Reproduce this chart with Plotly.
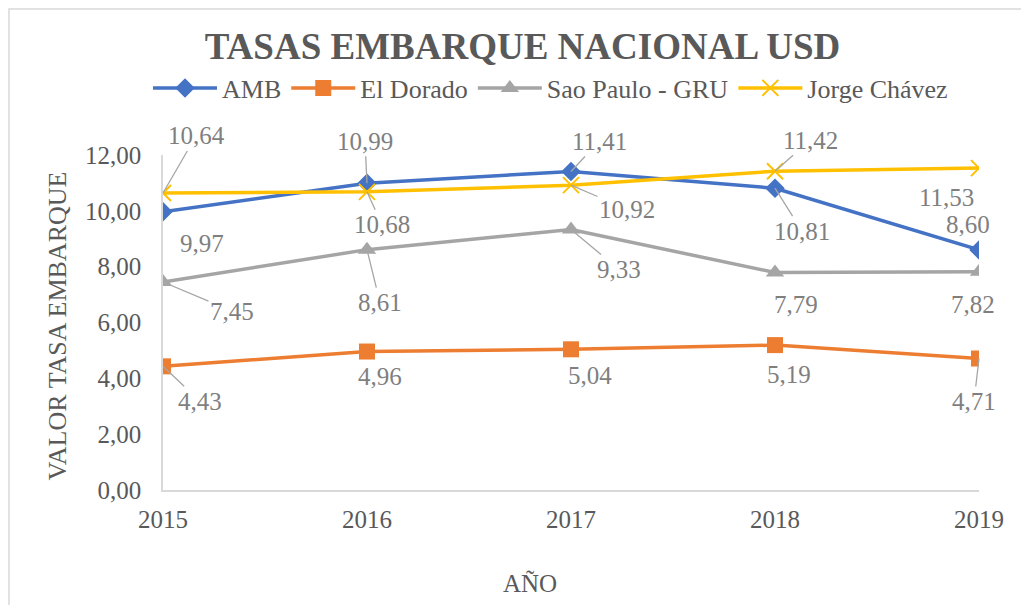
import plotly.graph_objects as go

years = ["2015", "2016", "2017", "2018", "2019"]
amb = [9.97, 10.99, 11.41, 10.81, 8.60]
el_dorado = [4.43, 4.96, 5.04, 5.19, 4.71]
sao_paulo = [7.45, 8.61, 9.33, 7.79, 7.82]
jorge_chavez = [10.64, 10.68, 10.92, 11.42, 11.53]

series_names = ["AMB", "El Dorado", "Sao Paulo - GRU", "Jorge Chávez"]
series_values = [amb, el_dorado, sao_paulo, jorge_chavez]
colors = ["#4472C4", "#ED7D31", "#A5A5A5", "#FFC000"]
symbols = ["diamond", "square", "triangle-up", "x-thin"]
msizes = [15, 16, 16, 16]

# label offsets (px) and whether a leader line is drawn
label_offsets = [
    [(39, 32, False), (-2, -42, True), (28, -30, True), (27, 43, True), (-11, -25, False)],
    [(37, 35, True), (13, 25, False), (19, 26, False), (14, 29, False), (-5, 43, True)],
    [(69, 29, True), (13, 53, True), (48, 40, True), (21, 32, False), (-6, 33, False)],
    [(33, -57, True), (15, 33, True), (56, 24, True), (35, -31, True), (-33, 29, False)],
]

FONT = "Liberation Serif"
DARK = "#595959"
fig = go.Figure()
for name, vals, c, s, ms in zip(series_names, series_values, colors, symbols, msizes):
    mk = dict(symbol=s, size=ms, color=c)
    if s == "x-thin":
        mk["line"] = dict(color=c, width=2)
    fig.add_trace(go.Scatter(x=years, y=vals, name=name, mode="lines+markers",
                             line=dict(color=c, width=3.5), marker=mk))

annotations = []
for vals, offs in zip(series_values, label_offsets):
    for i, (v, (dx, dy, line)) in enumerate(zip(vals, offs)):
        txt = f"{v:.2f}".replace(".", ",")
        a = dict(x=i, y=v, xref="x", yref="y", text=txt,
                 font=dict(family=FONT, size=25, color="#7f7f7f"))
        if line:
            a.update(showarrow=True, ax=dx, ay=dy, arrowhead=0, arrowwidth=1.3,
                     arrowcolor="#a6a6a6", standoff=0, startstandoff=0)
        else:
            a.update(showarrow=False, xshift=dx, yshift=-dy)
        annotations.append(a)

# axis titles placed as in the reference
annotations.append(dict(text="AÑO", xref="paper", yref="paper", x=0.45, y=-0.278,
                        showarrow=False, xanchor="center", yanchor="middle",
                        font=dict(family=FONT, size=25, color=DARK)))
annotations.append(dict(text="VALOR TASA EMBARQUE", xref="paper", yref="paper",
                        x=-0.129, y=0.49, textangle=-90, showarrow=False,
                        xanchor="center", yanchor="middle",
                        font=dict(family=FONT, size=26, color=DARK)))

fig.update_layout(
    width=1029, height=605,
    paper_bgcolor="white", plot_bgcolor="white",
    margin=dict(l=155, r=58, t=147, b=123, autoexpand=False),
    title=dict(text="<b>TASAS EMBARQUE NACIONAL USD</b>", x=0.5, xref="container",
               xanchor="center", y=0.937, yref="container", yanchor="middle",
               font=dict(family=FONT, size=37, color=DARK)),
    legend=dict(orientation="h", x=140 / 1029, xanchor="left", xref="container",
                y=1.2, yanchor="middle",
                font=dict(family=FONT, size=26, color=DARK),
                itemwidth=64, tracegroupgap=0),
    xaxis=dict(type="category", range=[0, 4], showgrid=False, showline=True,
               linecolor="#d9d9d9", linewidth=1.5, ticks="", automargin=False,
               ticklabelstandoff=6,
               tickfont=dict(family=FONT, size=25, color=DARK)),
    yaxis=dict(range=[0, 12], dtick=2, showgrid=False, showline=True,
               linecolor="#d9d9d9", linewidth=1.5, ticks="", zeroline=False,
               tickformat=".2f", automargin=False, ticklabelstandoff=15,
               tickfont=dict(family=FONT, size=25, color=DARK)),
    separators=",.",
    annotations=annotations,
    shapes=[dict(type="rect", xref="paper", yref="paper",
                 x0=-154/816, x1=1.3, y0=-0.6, y1=1 + 146/335,
                 line=dict(color="#d9d9d9", width=1.5), layer="below")],
)
fig.write_html("out.html")
